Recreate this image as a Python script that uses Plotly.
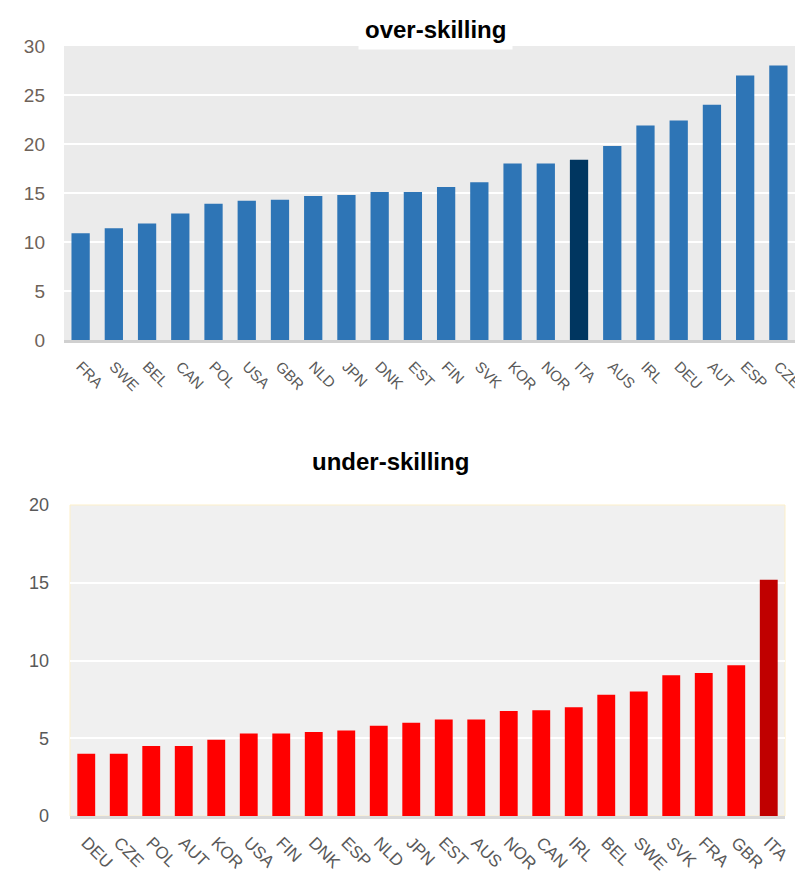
import plotly.graph_objects as go

paises_over = ["FRA", "SWE", "BEL", "CAN", "POL", "USA", "GBR", "NLD", "JPN", "DNK", "EST",
               "FIN", "SVK", "KOR", "NOR", "ITA", "AUS", "IRL", "DEU", "AUT", "ESP", "CZE"]
valores_over = [10.9, 11.4, 11.9, 12.9, 13.9, 14.2, 14.3, 14.7, 14.8, 15.1, 15.1,
                15.6, 16.1, 18.0, 18.0, 18.4, 19.8, 21.9, 22.4, 24.0, 27.0, 28.0]

paises_under = ["DEU", "CZE", "POL", "AUT", "KOR", "USA", "FIN", "DNK", "ESP", "NLD", "JPN",
                "EST", "AUS", "NOR", "CAN", "IRL", "BEL", "SWE", "SVK", "FRA", "GBR", "ITA"]
valores_under = [4.0, 4.0, 4.5, 4.5, 4.9, 5.3, 5.3, 5.4, 5.5, 5.8, 6.0,
                 6.2, 6.2, 6.75, 6.8, 7.0, 7.8, 8.0, 9.05, 9.2, 9.7, 15.2]

ticks_over = [0, 5, 10, 15, 20, 25, 30]
ticks_under = [0, 5, 10, 15, 20]

cores_over = ["#003660" if p == "ITA" else "#2E75B6" for p in paises_over]
cores_under = ["#C00000" if p == "ITA" else "#FF0000" for p in paises_under]

W, H = 795, 867

fig = go.Figure()
fig.add_trace(go.Bar(x=paises_over, y=valores_over, marker_color=cores_over,
                     marker_line_width=0, xaxis="x", yaxis="y", showlegend=False))
fig.add_trace(go.Bar(x=paises_under, y=valores_under, marker_color=cores_under,
                     marker_line_width=0, xaxis="x2", yaxis="y2", showlegend=False))

fig.update_layout(
    width=W, height=H,
    margin=dict(l=0, r=0, t=0, b=0, autoexpand=False),
    paper_bgcolor="white",
    font=dict(family="Liberation Sans, Arial", color="#595959"),
    bargap=0.45,
    xaxis=dict(domain=[56 / W, 787 / W], anchor="y", tickangle=45, automargin=False,
               tickfont=dict(size=15, color="#595959"),
               showline=True, linecolor="#D0D0D0", linewidth=3,
               ticks="outside", ticklen=9, tickcolor="rgba(0,0,0,0)", showgrid=False),
    yaxis=dict(domain=[1 - 332 / H, 1 - 38 / H], anchor="x", range=[0, 30],
               tickvals=ticks_over, automargin=False,
               tickfont=dict(size=19, color="#6E6259"), ticklabelstandoff=18,
               gridcolor="white", gridwidth=1.5, zeroline=False),
    xaxis2=dict(domain=[62 / W, 777 / W], anchor="y2", tickangle=45, automargin=False,
                tickfont=dict(size=17, color="#595959"),
                showline=True, linecolor="#D9D9D9", linewidth=3,
                ticks="outside", ticklen=7, tickcolor="rgba(0,0,0,0)", showgrid=False),
    yaxis2=dict(domain=[1 - 808 / H, 1 - 497 / H], anchor="x2", range=[0, 20],
                tickvals=ticks_under, automargin=False,
                tickfont=dict(size=18, color="#595959"), ticklabelstandoff=20,
                gridcolor="white", gridwidth=1.5, zeroline=False),
    plot_bgcolor="#EBEBEB",
)

# fundo do segundo grafico (cinza mais claro com borda amarelada)
fig.add_shape(type="rect", xref="x2 domain", yref="y2 domain", x0=0, x1=1, y0=0, y1=1,
              fillcolor="#F0F0F0", line=dict(color="#FCEFC9", width=1), layer="below")

fig.add_annotation(text="<b>over-skilling</b>", xref="paper", yref="paper",
                   x=427 / W, y=1 - 22 / H, yanchor="middle", showarrow=False,
                   font=dict(size=24, color="black", family="Liberation Sans, Arial"),
                   bgcolor="white", borderpad=6)
fig.add_annotation(text="<b>under-skilling</b>", xref="paper", yref="paper",
                   x=382 / W, y=1 - 454 / H, yanchor="middle", showarrow=False,
                   font=dict(size=24, color="black", family="Liberation Sans, Arial"))

fig.write_html("out.html")
